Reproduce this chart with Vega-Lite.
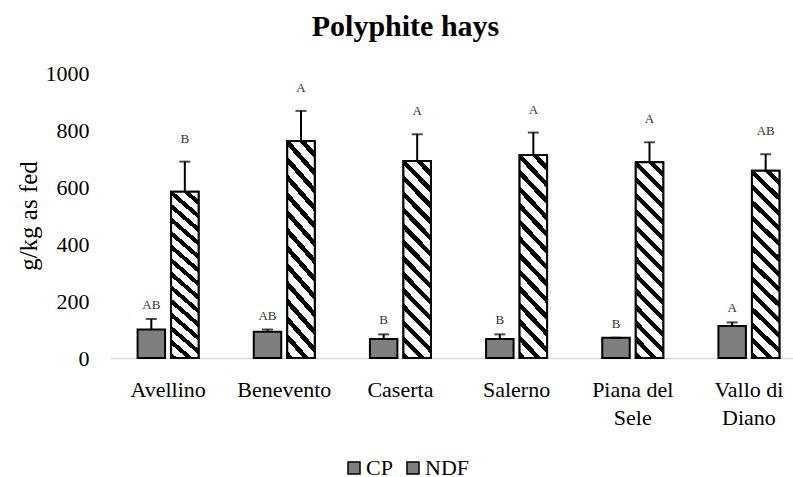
{
  "$schema": "https://vega.github.io/schema/vega-lite/v6.json",
  "width": 683,
  "height": 285,
  "autosize": "none",
  "padding": {"left": 110, "top": 73, "right": 0, "bottom": 119},
  "background": "white",
  "config": {
    "view": {"stroke": null},
    "font": "Liberation Serif",
    "axisY": {
      "titleFontSize": 25, "titleFontWeight": "normal", "titleColor": "black",
      "titleX": -82, "titleY": 142.5, "titleAngle": -90, "titleAlign": "center", "titleBaseline": "middle",
      "labelFontSize": 22, "labelColor": "black", "labelPadding": 21, "domain": false, "ticks": false, "grid": false
    }
  },
  "title": {"text": "Polyphite hays", "font": "Liberation Serif", "fontSize": 30, "fontWeight": "bold", "color": "black", "anchor": "middle", "frame": "bounds", "baseline": "alphabetic", "offset": 25, "dy": 29, "dx": -6},
  "data": {"values": [
    {"region": "Avellino", "type": "CP", "value": 100, "upper": 137, "letter": "AB"},
    {"region": "Avellino", "type": "NDF", "value": 583, "upper": 689, "letter": "B"},
    {"region": "Benevento", "type": "CP", "value": 92, "upper": 100, "letter": "AB"},
    {"region": "Benevento", "type": "NDF", "value": 761, "upper": 867, "letter": "A"},
    {"region": "Caserta", "type": "CP", "value": 67, "upper": 83, "letter": "B"},
    {"region": "Caserta", "type": "NDF", "value": 691, "upper": 785, "letter": "A"},
    {"region": "Salerno", "type": "CP", "value": 67, "upper": 83, "letter": "B"},
    {"region": "Salerno", "type": "NDF", "value": 712, "upper": 791, "letter": "A"},
    {"region": "Piana del Sele", "type": "CP", "value": 71, "upper": 71, "letter": "B"},
    {"region": "Piana del Sele", "type": "NDF", "value": 687, "upper": 757, "letter": "A"},
    {"region": "Vallo di Diano", "type": "CP", "value": 112, "upper": 125, "letter": "A"},
    {"region": "Vallo di Diano", "type": "NDF", "value": 657, "upper": 715, "letter": "AB"}
  ]},
  "encoding": {
    "x": {
      "field": "region", "type": "nominal", "sort": null,
      "scale": {"paddingInner": 0.475, "paddingOuter": 0.2375, "rangeMax": 697},
      "axis": {
        "title": null, "labelAngle": 0, "labelFontSize": 22, "labelColor": "black", "labelPadding": 21,
        "ticks": false, "domainColor": "#d9d9d9", "domainWidth": 1.5, "labelLineHeight": 28,
        "labelExpr": "datum.value == 'Piana del Sele' ? ['Piana del', 'Sele'] : datum.value == 'Vallo di Diano' ? ['Vallo di', 'Diano'] : datum.label"
      }
    },
    "xOffset": {"field": "type", "type": "nominal", "sort": ["CP", "NDF"], "scale": {"paddingInner": 0.18, "paddingOuter": 0}}
  },
  "layer": [
    {
      "mark": {"type": "bar", "strokeWidth": 2, "fill": "#7f7f7f"},
      "encoding": {
        "y": {
          "field": "value", "type": "quantitative", "scale": {"domain": [0, 1000]}, "title": "g/kg as fed",
          "axis": {"values": [0, 200, 400, 600, 800, 1000], "format": "d"}
        },
        "stroke": {
          "field": "type", "type": "nominal",
          "scale": {"domain": ["CP", "NDF"], "range": ["black", "black"]},
          "legend": {
            "orient": "none", "legendX": 233, "legendY": 384, "direction": "horizontal", "title": null,
            "symbolType": "square", "symbolSize": 144, "labelFontSize": 22, "labelColor": "black",
            "labelOffset": 1, "columnPadding": 9, "symbolStrokeWidth": 1.5
          }
        }
      }
    },
    {
      "transform": [{"filter": "datum.type === 'NDF'"}],
      "mark": {"type": "bar", "stroke": "black", "strokeWidth": 2,
        "fill": {"gradient": "linear", "x1": 0, "y1": 1, "x2": 0.16, "y2": -0.12, "stops": [
          {"offset": 0, "color": "black"}, {"offset": 0.0286, "color": "black"}, {"offset": 0.0286, "color": "white"}, {"offset": 0.0714, "color": "white"},
          {"offset": 0.0714, "color": "black"}, {"offset": 0.1, "color": "black"}, {"offset": 0.1, "color": "white"}, {"offset": 0.1429, "color": "white"},
          {"offset": 0.1429, "color": "black"}, {"offset": 0.1714, "color": "black"}, {"offset": 0.1714, "color": "white"}, {"offset": 0.2143, "color": "white"},
          {"offset": 0.2143, "color": "black"}, {"offset": 0.2429, "color": "black"}, {"offset": 0.2429, "color": "white"}, {"offset": 0.2857, "color": "white"},
          {"offset": 0.2857, "color": "black"}, {"offset": 0.3143, "color": "black"}, {"offset": 0.3143, "color": "white"}, {"offset": 0.3571, "color": "white"},
          {"offset": 0.3571, "color": "black"}, {"offset": 0.3857, "color": "black"}, {"offset": 0.3857, "color": "white"}, {"offset": 0.4286, "color": "white"},
          {"offset": 0.4286, "color": "black"}, {"offset": 0.4571, "color": "black"}, {"offset": 0.4571, "color": "white"}, {"offset": 0.5, "color": "white"},
          {"offset": 0.5, "color": "black"}, {"offset": 0.5286, "color": "black"}, {"offset": 0.5286, "color": "white"}, {"offset": 0.5714, "color": "white"},
          {"offset": 0.5714, "color": "black"}, {"offset": 0.6, "color": "black"}, {"offset": 0.6, "color": "white"}, {"offset": 0.6429, "color": "white"},
          {"offset": 0.6429, "color": "black"}, {"offset": 0.6714, "color": "black"}, {"offset": 0.6714, "color": "white"}, {"offset": 0.7143, "color": "white"},
          {"offset": 0.7143, "color": "black"}, {"offset": 0.7429, "color": "black"}, {"offset": 0.7429, "color": "white"}, {"offset": 0.7857, "color": "white"},
          {"offset": 0.7857, "color": "black"}, {"offset": 0.8143, "color": "black"}, {"offset": 0.8143, "color": "white"}, {"offset": 0.8571, "color": "white"},
          {"offset": 0.8571, "color": "black"}, {"offset": 0.8857, "color": "black"}, {"offset": 0.8857, "color": "white"}, {"offset": 0.9286, "color": "white"},
          {"offset": 0.9286, "color": "black"}, {"offset": 0.9571, "color": "black"}, {"offset": 0.9571, "color": "white"}, {"offset": 1, "color": "white"}
        ]}
      },
      "encoding": {"y": {"field": "value", "type": "quantitative", "title": "g/kg as fed"}}
    },
    {
      "mark": {"type": "rule", "color": "black", "strokeWidth": 2},
      "encoding": {"y": {"field": "value", "type": "quantitative", "title": "g/kg as fed"}, "y2": {"field": "upper"}}
    },
    {
      "mark": {"type": "tick", "color": "black", "size": 11, "thickness": 2, "orient": "horizontal"},
      "encoding": {"y": {"field": "upper", "type": "quantitative", "title": "g/kg as fed"}}
    },
    {
      "transform": [{"filter": "datum.type === 'CP'"}],
      "mark": {"type": "text", "fontSize": 13, "color": "#333333", "dy": -14},
      "encoding": {"y": {"field": "upper", "type": "quantitative", "title": "g/kg as fed"}, "text": {"field": "letter"}}
    },
    {
      "transform": [{"filter": "datum.type === 'NDF'"}],
      "mark": {"type": "text", "fontSize": 13, "color": "#333333", "dy": -23},
      "encoding": {"y": {"field": "upper", "type": "quantitative", "title": "g/kg as fed"}, "text": {"field": "letter"}}
    }
  ]
}
